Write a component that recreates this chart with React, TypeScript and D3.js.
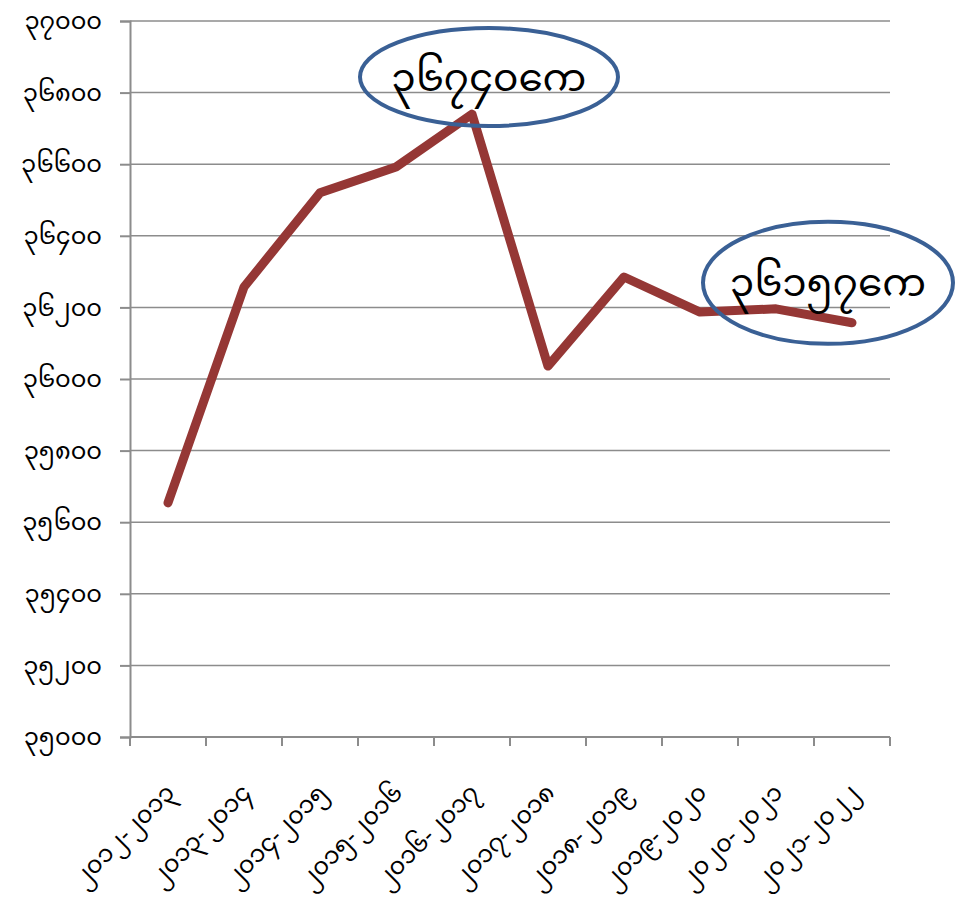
import React, { useEffect, useRef } from 'react';
import * as d3 from 'd3';

const categories = [
  '၂၀၁၂-၂၀၁၃', '၂၀၁၃-၂၀၁၄', '၂၀၁၄-၂၀၁၅', '၂၀၁၅-၂၀၁၆', '၂၀၁၆-၂၀၁၇',
  '၂၀၁၇-၂၀၁၈', '၂၀၁၈-၂၀၁၉', '၂၀၁၉-၂၀၂၀', '၂၀၂၀-၂၀၂၁', '၂၀၂၁-၂၀၂၂',
];
const values = [35654, 36257, 36520, 36592, 36740, 36036, 36285, 36187, 36196, 36157];
const yTicks = [35000, 35200, 35400, 35600, 35800, 36000, 36200, 36400, 36600, 36800, 37000];
const myDigits = ['၀', '၁', '၂', '၃', '၄', '၅', '၆', '၇', '၈', '၉'];
const callouts = [
  { text: '၃၆၇၄၀ကေ', index: 4, dx: 17, dy: -37, rx: 129, ry: 49 },
  { text: '၃၆၁၅၇ကေ', index: 9, dx: -24, dy: -40, rx: 125, ry: 61 },
];

const toMyanmar = (n: number) => String(n).split('').map(c => myDigits[+c]).join('');

const App: React.FC = () => {
  const svgRef = useRef<SVGSVGElement>(null);

  useEffect(() => {
    const svg = d3.select(svgRef.current);
    svg.selectAll('*').remove();

    const left = 130, right = 890, top = 21, bottom = 737;
    const font = "'Noto Sans Myanmar', 'Padauk', 'Myanmar Text', 'DejaVu Sans', sans-serif";

    const x = d3.scaleBand().domain(categories).range([left, right]);
    const y = d3.scaleLinear().domain([35000, 37000]).range([bottom, top]);

    // gridlines
    svg.append('g')
      .selectAll('line')
      .data(yTicks)
      .enter().append('line')
      .attr('x1', left).attr('x2', right)
      .attr('y1', d => y(d)).attr('y2', d => y(d))
      .attr('stroke', '#8c8c8c').attr('stroke-width', 1.5);

    const yAxis = svg.append('g')
      .attr('transform', `translate(${left},0)`)
      .call(d3.axisLeft(y).tickValues(yTicks).tickSize(10).tickPadding(18).tickFormat(d => toMyanmar(+d)));
    yAxis.select('.domain').attr('stroke', '#8c8c8c').attr('stroke-width', 2);
    yAxis.selectAll('.tick line').attr('stroke', '#8c8c8c').attr('stroke-width', 2);
    yAxis.selectAll('.tick text').attr('font-size', 24).attr('font-family', font).attr('fill', '#000');

    const xAxis = svg.append('g')
      .attr('transform', `translate(0,${bottom})`);
    xAxis.append('line')
      .attr('x1', left).attr('x2', right).attr('y1', 0).attr('y2', 0)
      .attr('stroke', '#8c8c8c').attr('stroke-width', 2);
    const edges = categories.map(c => x(c)!).concat([right]);
    xAxis.selectAll('.xt')
      .data(edges)
      .enter().append('line')
      .attr('x1', d => d).attr('x2', d => d).attr('y1', 0).attr('y2', 9)
      .attr('stroke', '#8c8c8c').attr('stroke-width', 2);
    xAxis.selectAll('text')
      .data(categories)
      .enter().append('text')
      .attr('transform', d => `translate(${x(d)! + x.bandwidth() / 2 + 8},${57}) rotate(-45)`)
      .attr('text-anchor', 'end')
      .attr('font-size', 24)
      .attr('font-family', font)
      .text(d => d);

    const line = d3.line<number>()
      .x((_, i) => x(categories[i])! + x.bandwidth() / 2)
      .y(d => y(d));
    svg.append('path')
      .datum(values)
      .attr('d', line)
      .attr('fill', 'none')
      .attr('stroke', '#953735')
      .attr('stroke-width', 9)
      .attr('stroke-linejoin', 'round')
      .attr('stroke-linecap', 'round');

    const cg = svg.append('g')
      .selectAll('g')
      .data(callouts)
      .enter().append('g')
      .attr('transform', d => `translate(${x(categories[d.index])! + x.bandwidth() / 2 + d.dx},${y(values[d.index]) + d.dy})`);
    cg.append('ellipse')
      .attr('rx', d => d.rx).attr('ry', d => d.ry)
      .attr('fill', 'none')
      .attr('stroke', '#3a6095')
      .attr('stroke-width', 4);
    cg.append('text')
      .attr('text-anchor', 'middle')
      .attr('dy', '0.35em')
      .attr('font-size', 39)
      .attr('font-family', font)
      .text(d => d.text);
  }, []);

  return (
    <div style={{ position: 'absolute', left: 0, top: 0 }}>
      <svg ref={svgRef} width={957} height={907} style={{ display: 'block', background: '#fff' }}></svg>
    </div>
  );
};

export default App;
